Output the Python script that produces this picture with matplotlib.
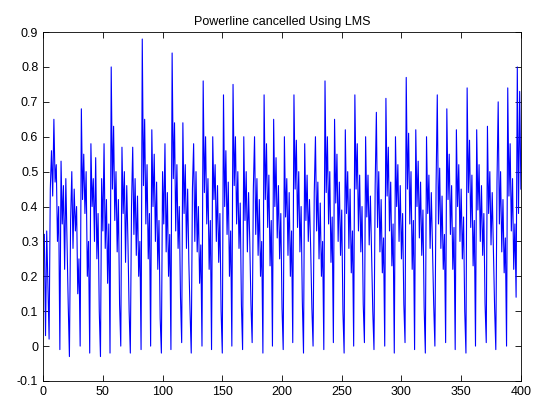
import numpy as np
import matplotlib
matplotlib.use("Agg")
import matplotlib.pyplot as plt

# LMS output, one cycle at a time (each cycle ends at a trough)
c_start = [0.32, 0.03, 0.33, 0.18, 0.02]
c_mid = [
    [0.45, 0.56, 0.43, 0.65, 0.47, 0.52, 0.30, 0.40, -0.01],
    [0.53, 0.35, 0.46, 0.22, 0.48, 0.30, 0.12, -0.03],
    [0.36, 0.50, 0.28, 0.45, 0.33, 0.40, 0.15, 0.25, 0.00],
    [0.68, 0.42, 0.55, 0.38, 0.50, 0.20, 0.30, -0.02],
    [0.58, 0.40, 0.48, 0.30, 0.54, 0.25, 0.38, 0.10, -0.03],
    [0.48, 0.33, 0.58, 0.28, 0.42, 0.18, 0.35, -0.02],
    [0.80, 0.45, 0.63, 0.36, 0.50, 0.27, 0.42, 0.12, 0.00],
    [0.57, 0.38, 0.50, 0.24, 0.46, 0.30, 0.10, -0.02],
    [0.40, 0.57, 0.32, 0.48, 0.26, 0.43, 0.20, 0.30, -0.01],
    [0.88, 0.46, 0.65, 0.35, 0.52, 0.25, 0.38, 0.00],
    [0.62, 0.40, 0.55, 0.30, 0.47, 0.22, 0.36, 0.08, -0.02],
    [0.50, 0.35, 0.58, 0.27, 0.44, 0.20, 0.32, -0.01],
    [0.84, 0.48, 0.64, 0.33, 0.52, 0.28, 0.40, 0.14, 0.01],
    [0.64, 0.38, 0.52, 0.28, 0.45, 0.24, 0.10, -0.02],
    [0.45, 0.58, 0.30, 0.50, 0.27, 0.40, 0.18, 0.29, 0.00],
    [0.76, 0.44, 0.60, 0.35, 0.48, 0.22, 0.36, -0.01],
    [0.60, 0.42, 0.52, 0.30, 0.46, 0.24, 0.38, 0.10, -0.02],
    [0.72, 0.40, 0.56, 0.32, 0.47, 0.20, 0.33, 0.00],
    [0.75, 0.46, 0.60, 0.35, 0.50, 0.28, 0.41, 0.12, -0.01],
    [0.60, 0.36, 0.50, 0.27, 0.44, 0.30, 0.12, 0.01],
    [0.45, 0.60, 0.32, 0.48, 0.26, 0.42, 0.20, 0.30, -0.02],
    [0.72, 0.42, 0.58, 0.34, 0.49, 0.23, 0.36, 0.00],
    [0.65, 0.40, 0.54, 0.31, 0.46, 0.25, 0.38, 0.11, -0.01],
    [0.60, 0.37, 0.48, 0.26, 0.44, 0.20, 0.33, 0.01],
    [0.72, 0.45, 0.59, 0.34, 0.50, 0.27, 0.40, 0.13, -0.02],
    [0.58, 0.36, 0.49, 0.30, 0.42, 0.28, 0.11, 0.00],
    [0.44, 0.60, 0.33, 0.47, 0.25, 0.41, 0.20, 0.30, -0.01],
    [0.76, 0.44, 0.60, 0.35, 0.50, 0.24, 0.37, 0.01],
    [0.65, 0.41, 0.55, 0.30, 0.47, 0.26, 0.39, 0.10, -0.02],
    [0.62, 0.38, 0.50, 0.28, 0.45, 0.21, 0.33, 0.00],
    [0.72, 0.45, 0.58, 0.33, 0.49, 0.27, 0.40, 0.12, 0.01],
    [0.60, 0.37, 0.49, 0.29, 0.43, 0.27, 0.10, -0.01],
    [0.46, 0.67, 0.34, 0.50, 0.27, 0.42, 0.21, 0.31, 0.00],
    [0.71, 0.43, 0.57, 0.33, 0.47, 0.23, 0.35, -0.02],
    [0.60, 0.40, 0.52, 0.30, 0.46, 0.25, 0.38, 0.12, 0.01],
    [0.77, 0.45, 0.61, 0.35, 0.50, 0.22, 0.36, -0.01],
    [0.62, 0.40, 0.53, 0.31, 0.47, 0.26, 0.39, 0.11, -0.02],
    [0.60, 0.38, 0.49, 0.28, 0.44, 0.28, 0.12, 0.00],
    [0.46, 0.72, 0.35, 0.51, 0.28, 0.43, 0.22, 0.32, 0.01],
    [0.68, 0.42, 0.55, 0.32, 0.46, 0.22, 0.34, -0.01],
    [0.62, 0.40, 0.52, 0.30, 0.45, 0.25, 0.37, 0.10, -0.02],
    [0.74, 0.44, 0.59, 0.34, 0.49, 0.23, 0.36, 0.00],
    [0.62, 0.39, 0.52, 0.30, 0.46, 0.26, 0.38, 0.12, 0.01],
    [0.63, 0.38, 0.50, 0.29, 0.44, 0.27, 0.11, -0.01],
    [0.47, 0.70, 0.35, 0.50, 0.27, 0.42, 0.21, 0.31, 0.00],
    [0.74, 0.43, 0.58, 0.33, 0.48, 0.22, 0.35, 0.14],
]
c_end = [0.80, 0.38, 0.73, 0.45]

y = list(c_start)
for c in c_mid:
    y += c
y += c_end
x = np.arange(1, len(y) + 1)

xticks = [0, 50, 100, 150, 200, 250, 300, 350, 400]
yticks = [-0.1, 0, 0.1, 0.2, 0.3, 0.4, 0.5, 0.6, 0.7, 0.8, 0.9]
ylabels = ["-0.1", "0", "0.1", "0.2", "0.3", "0.4", "0.5", "0.6", "0.7", "0.8", "0.9"]

plt.rcParams['font.family'] = ['Liberation Sans', 'DejaVu Sans']

fig = plt.figure(figsize=(5.46, 4.11), dpi=100)
ax = fig.add_axes([0.079, 0.073, 0.875, 0.849])
ax.plot(x, y, color='#0000ff', lw=0.8)
ax.set_xlim(0, 400)
ax.set_ylim(-0.1, 0.9)
ax.set_xticks(xticks)
ax.set_yticks(yticks)
ax.set_yticklabels(ylabels)
ax.tick_params(direction='in', top=True, right=True, labelsize=9, length=4, width=0.6)
for s in ax.spines.values():
    s.set_linewidth(0.6)
ax.set_title('Powerline cancelled Using LMS', fontsize=9, pad=5)

fig.savefig('out.png', dpi=100)
